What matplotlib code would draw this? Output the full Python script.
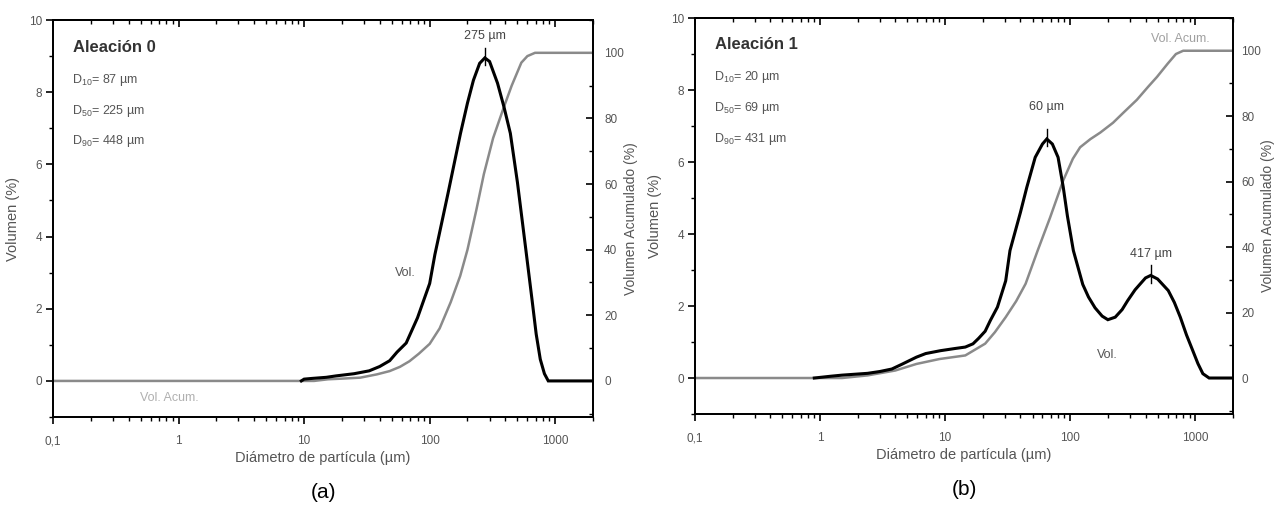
import matplotlib
matplotlib.use('Agg')
import matplotlib.pyplot as plt
from matplotlib.ticker import FixedLocator, LogLocator, MultipleLocator, NullFormatter

plt.rcParams['font.family'] = ['Liberation Sans', 'DejaVu Sans']
plt.rcParams['mathtext.fontset'] = 'custom'
plt.rcParams['mathtext.rm'] = 'Liberation Sans'

# ---- data ----
# (a) Aleacion 0
vol0_x = [9.5, 10, 11.6, 15, 18, 25, 33, 40, 48, 55, 65, 80, 100, 110, 125, 140, 176, 200,
          223, 250, 275, 300, 347, 390, 439, 500, 585, 656, 705, 760, 820, 880, 2000]
vol0_y = [0.0, 0.05, 0.07, 0.1, 0.14, 0.2, 0.28, 0.4, 0.56, 0.8, 1.05, 1.75, 2.7, 3.5, 4.4, 5.2,
          6.86, 7.7, 8.33, 8.8, 8.95, 8.85, 8.25, 7.6, 6.86, 5.5, 3.6, 2.2, 1.3, 0.6, 0.2, 0.0, 0.0]
acum0_x = [0.1, 12, 15.5, 20, 28, 38, 48, 58, 69, 82, 100, 120, 147, 175, 200, 235, 270, 320,
           386, 450, 537, 600, 690, 2000]
acum0_y = [0, 0, 0.5, 0.7, 1, 2, 3, 4.3, 6, 8.3, 11.3, 16, 24, 32, 40, 52, 63, 74,
           83, 90, 97, 99, 100, 100]
peaks0 = [275]
peaks0_y = [8.95]
peaks0_lbl = ['275 µm']
d0 = ['87', '225', '448']

# (b) Aleacion 1
vol1_x = [0.9, 1.22, 1.5, 2.4, 3, 3.75, 4.5, 5.9, 7, 9.2, 12, 14.5, 16.7, 18.5, 20.9, 23, 26.2,
          30.5, 33, 40, 45, 52.5, 60, 65, 72, 80, 88, 95, 106, 126, 140, 158, 180, 200, 229,
          260, 288, 330, 360, 400, 440, 500, 608, 680, 759, 850, 955, 1050, 1150, 1290, 2000]
vol1_y = [0.0, 0.05, 0.08, 0.13, 0.18, 0.25, 0.38, 0.58, 0.68, 0.76, 0.82, 0.86, 0.95, 1.1, 1.3,
          1.6, 1.97, 2.7, 3.54, 4.6, 5.3, 6.13, 6.5, 6.64, 6.5, 6.13, 5.3, 4.5, 3.54, 2.6, 2.25,
          1.95, 1.72, 1.62, 1.69, 1.9, 2.15, 2.45, 2.6, 2.78, 2.85, 2.75, 2.43, 2.1, 1.69, 1.2,
          0.76, 0.4, 0.12, 0.0, 0.0]
acum1_x = [0.1, 1.5, 2.4, 4, 5.9, 9, 14.5, 20.9, 25, 30.5, 37, 44, 55, 69, 88, 105, 120, 145,
           174, 220, 265, 341, 420, 494, 600, 700, 800, 2000]
acum1_y = [0, 0, 0.8, 2.3, 4.3, 5.8, 6.9, 10.5, 14, 18.6, 23.5, 28.8, 39, 49, 60.4, 67, 70.5, 73,
           75, 78, 81, 85, 89, 92, 96, 99, 100, 100]
peaks1 = [65, 440]
peaks1_y = [6.64, 2.85]
peaks1_lbl = ['60 µm', '417 µm']
d1 = ['20', '69', '431']

xticks = [0.1, 1, 10, 100, 1000]
xtick_labels = ['0,1', '1', '10', '100', '1000']

TXT = '#555555'
GRAY = '#8a8a8a'


def draw_panel(ax, vx, vy, ax_x, ax_y, px, py, plbl, lbl_dy, dvals, title,
               vol_pos, acum_pos, acum_color, caption):
    ax2 = ax.twinx()
    ax2.plot(ax_x, ax_y, color=GRAY, lw=1.8, solid_joinstyle='round')
    ax.plot(vx, vy, color='black', lw=2.2, solid_joinstyle='miter')
    ax.set_zorder(ax2.get_zorder() + 1)
    ax.patch.set_visible(False)

    for x, y, lab, dy in zip(px, py, plbl, lbl_dy):
        ax.plot([x, x], [y - 0.2, y + 0.28], color='black', lw=1.0)
        ax.text(x, y + dy, lab, ha='center', va='center', fontsize=9, color='#444444')

    ax.set_xscale('log')
    ax.set_xlim(0.1, 2000)
    ax.set_ylim(-1, 10)
    ax2.set_ylim(-11, 110)

    ax.set_xticks(xticks)
    ax.set_xticklabels(xtick_labels)
    ax.xaxis.set_minor_locator(LogLocator(base=10, subs=range(2, 10)))
    ax.xaxis.set_minor_formatter(NullFormatter())
    ax.yaxis.set_major_locator(FixedLocator([0, 2, 4, 6, 8, 10]))
    ax.yaxis.set_minor_locator(MultipleLocator(1))
    ax2.yaxis.set_major_locator(FixedLocator([0, 20, 40, 60, 80, 100]))
    ax2.yaxis.set_minor_locator(MultipleLocator(10))

    ax.tick_params(which='major', direction='out', length=5, width=1.2, labelsize=8.5,
                   labelcolor=TXT, pad=3)
    ax.tick_params(which='minor', direction='out', length=3, width=1.0)
    ax.tick_params(axis='x', which='major', pad=8)
    ax2.tick_params(which='major', direction='in', length=5, width=1.2, labelsize=8.5,
                    labelcolor=TXT, pad=8)
    ax2.tick_params(which='minor', direction='in', length=3, width=1.0)

    top = ax.secondary_xaxis('top')
    top.set_xticks(xticks)
    top.xaxis.set_minor_locator(LogLocator(base=10, subs=range(2, 10)))
    top.xaxis.set_minor_formatter(NullFormatter())
    top.tick_params(which='major', direction='in', length=5, width=1.2, labeltop=False)
    top.tick_params(which='minor', direction='in', length=3, width=1.0)

    for a in (ax, ax2):
        for s in a.spines.values():
            s.set_linewidth(1.3)
    top.spines['top'].set_linewidth(1.3)

    ax.set_xlabel('Diámetro de partícula (µm)', fontsize=10.5, color=TXT, labelpad=3)
    ax.set_ylabel('Volumen (%)', fontsize=10.5, color=TXT, labelpad=6)
    ax2.set_ylabel('Volumen Acumulado (%)', fontsize=10, color=TXT, labelpad=0)

    ax.text(0.037, 0.932, title, transform=ax.transAxes, fontsize=12, fontweight='bold',
            color='#333333', va='center')
    for i, (sub, v) in enumerate(zip(['10', '50', '90'], dvals)):
        ax.text(0.035, 0.85 - i * 0.078, r'D$_{\mathregular{%s}}$= %s µm' % (sub, v),
                transform=ax.transAxes, fontsize=9, color=TXT, va='center')

    ax.text(vol_pos[0], vol_pos[1], 'Vol.', fontsize=9, color=TXT, ha='center', va='center')
    ax.text(acum_pos[0], acum_pos[1], 'Vol. Acum.', fontsize=9, color=acum_color,
            ha='center', va='center')
    ax.text(0.5, -0.19, caption, transform=ax.transAxes, fontsize=15, ha='center', va='center')
    return ax2


fig = plt.figure(figsize=(12.77, 5.09), dpi=100)
ax_a = fig.add_axes([0.0415, 0.1807, 0.4229, 0.780])
ax_b = fig.add_axes([0.5442, 0.1866, 0.4213, 0.778])

draw_panel(ax_a, vol0_x, vol0_y, acum0_x, acum0_y, peaks0, peaks0_y, peaks0_lbl, [0.6],
           d0, 'Aleación 0', (64, 3.0), (0.85, -0.47), '#b0b0b0', '(a)')
ax_b2 = draw_panel(ax_b, vol1_x, vol1_y, acum1_x, acum1_y, peaks1, peaks1_y, peaks1_lbl,
                   [0.9, 0.6], d1, 'Aleación 1', (198, 0.65), (760, 9.43), '#a0a0a0', '(b)')
ax_b2.tick_params(which='major', pad=6)

fig.savefig('out.png', dpi=100)
